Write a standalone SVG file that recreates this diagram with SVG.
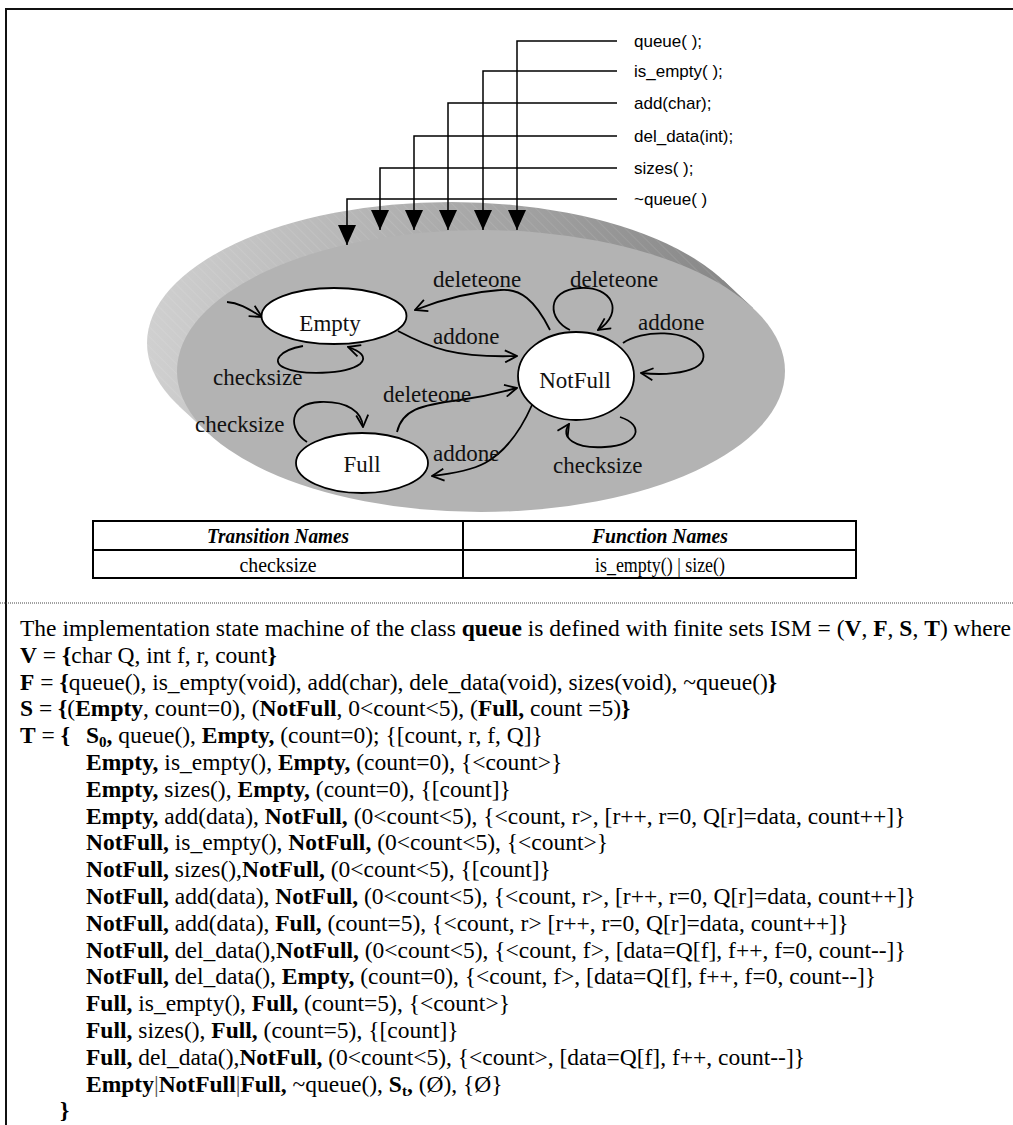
<svg xmlns="http://www.w3.org/2000/svg" width="1013" height="1125" viewBox="0 0 1013 1125">
<defs>
<style>
.t{font-family:"Liberation Serif","Times New Roman",serif;font-size:23.5px;fill:#000}
.b{font-weight:bold}
.lbl{font-family:"Liberation Serif","Times New Roman",serif;font-size:23px;fill:#111}
.sn{font-family:"Liberation Serif","Times New Roman",serif;font-size:23px;fill:#111;text-anchor:middle}
.fn{font-family:"Liberation Sans",Arial,sans-serif;font-size:17px;fill:#000}
.st{fill:#fff;stroke:#000;stroke-width:1.8}
.e{fill:none;stroke:#000;stroke-width:1.8;marker-end:url(#chev)}
.c{fill:none;stroke:#000;stroke-width:1.5;marker-end:url(#tri)}
.th{font-family:"Liberation Serif","Times New Roman",serif;font-size:21px;font-weight:bold;font-style:italic;text-anchor:middle}
.td{font-family:"Liberation Serif","Times New Roman",serif;font-size:21px;text-anchor:middle}
</style>
<marker id="chev" viewBox="0 0 14 14" refX="13" refY="7" markerWidth="14" markerHeight="14" markerUnits="userSpaceOnUse" orient="auto"><path d="M1,1 L13,7 L1,13" fill="none" stroke="#000" stroke-width="1.8"/></marker>
<marker id="tri" viewBox="0 0 20 18" refX="20" refY="9" markerWidth="20" markerHeight="18" markerUnits="userSpaceOnUse" orient="auto"><path d="M0,0 L20,9 L0,18 z" fill="#000"/></marker>
<linearGradient id="band" gradientUnits="userSpaceOnUse" x1="147" y1="0" x2="750" y2="0"><stop offset="0" stop-color="#d0d0d0"/><stop offset="1" stop-color="#858585"/></linearGradient>
<pattern id="hatch" width="7" height="7" patternUnits="userSpaceOnUse" patternTransform="rotate(-45)"><line x1="0" y1="0" x2="0" y2="7" stroke="#fff" stroke-opacity="0.18" stroke-width="1"/></pattern>
</defs>
<rect width="1013" height="1125" fill="#fff"/>
<g id="frame">
<line x1="6" y1="9" x2="1013" y2="9" stroke="#111" stroke-width="2"/>
<line x1="6" y1="8" x2="6" y2="1125" stroke="#111" stroke-width="2"/>
<line x1="0" y1="603" x2="1013" y2="603" stroke="#444" stroke-width="1" stroke-dasharray="1 1"/>
</g>
<g id="disk">
<ellipse cx="451" cy="343" rx="304" ry="141" fill="url(#band)"/>
<polygon points="208.7,433.7 178.7,405.7 723.3,280.3 753.3,308.3" fill="url(#band)"/>
<ellipse cx="451" cy="343" rx="304" ry="141" fill="url(#hatch)"/>
<polygon points="208.7,433.7 178.7,405.7 723.3,280.3 753.3,308.3" fill="url(#hatch)"/>
<ellipse cx="481" cy="371" rx="304" ry="141" fill="#b3b3b3"/>
</g>
<g id="connectors">
<path class="c" d="M617,41 H517 V230"/>
<path class="c" d="M617,71 H483 V230"/>
<path class="c" d="M617,103 H448 V230"/>
<path class="c" d="M617,136 H414 V230"/>
<path class="c" d="M617,168 H380 V230"/>
<path class="c" d="M617,199 H347 V245"/>
<path class="e" d="M227,302 C240,303 250,310 262,317"/>
<path class="e" d="M303,346 C280,350 270,362 285,368 C300,375 345,375 360,364 C368,357 360,351 348,347"/>
<path class="e" d="M398,331 C430,348 455,358 517,356"/>
<path class="e" d="M550,330 C535,300 520,288 500,290 C470,292 440,300 415,310"/>
<path class="e" d="M570,330 C548,320 545,290 580,288 C612,286 625,312 598,330"/>
<path class="e" d="M623,343 C640,330 690,328 702,350 C712,372 670,376 641,373"/>
<path class="e" d="M620,417 C645,425 640,445 605,447 C575,449 560,438 569,424"/>
<path class="e" d="M307,442 C288,430 288,403 320,402 C348,401 362,412 363,427"/>
<path class="e" d="M397,432 C402,410 420,405 460,400 C490,396 500,392 517,388"/>
<path class="e" d="M532,405 C520,432 505,452 485,463 C470,471 450,474 432,476"/>
</g>
<g id="fnlabels">
<text class="fn" x="634" y="47">queue( );</text>
<text class="fn" x="634" y="77">is_empty( );</text>
<text class="fn" x="634" y="109">add(char);</text>
<text class="fn" x="634" y="142">del_data(int);</text>
<text class="fn" x="634" y="174">sizes( );</text>
<text class="fn" x="634" y="205">~queue( )</text>
</g>
<g id="node-empty">
<ellipse class="st" cx="334" cy="316" rx="72.5" ry="28"/>
<text class="sn" x="330" y="331">Empty</text>
</g>
<g id="node-notfull">
<ellipse class="st" cx="576" cy="376" rx="58" ry="44"/>
<text class="sn" x="575" y="388">NotFull</text>
</g>
<g id="node-full">
<ellipse class="st" cx="362" cy="463" rx="66" ry="30"/>
<text class="sn" x="362" y="472">Full</text>
</g>
<g id="edge-labels">
<text class="lbl" x="433" y="287">deleteone</text>
<text class="lbl" x="433" y="344">addone</text>
<text class="lbl" x="213" y="385">checksize</text>
<text class="lbl" x="570" y="287">deleteone</text>
<text class="lbl" x="638" y="330">addone</text>
<text class="lbl" x="553" y="473">checksize</text>
<text class="lbl" x="195" y="432">checksize</text>
<text class="lbl" x="383" y="402">deleteone</text>
<text class="lbl" x="433" y="461">addone</text>
</g>
<g id="table">
<rect x="93" y="521" width="763" height="57" fill="#fff" stroke="#000" stroke-width="2"/>
<line x1="93" y1="550" x2="856" y2="550" stroke="#000" stroke-width="2"/>
<line x1="463" y1="521" x2="463" y2="578" stroke="#000" stroke-width="2"/>
<text class="th" x="278" y="543" textLength="142" lengthAdjust="spacingAndGlyphs">Transition Names</text>
<text class="th" x="660" y="543" textLength="136" lengthAdjust="spacingAndGlyphs">Function Names</text>
<text class="td" x="278" y="572" textLength="77" lengthAdjust="spacingAndGlyphs">checksize</text>
<text class="td" x="660" y="572" textLength="130" lengthAdjust="spacingAndGlyphs">is_empty() | size()</text>
</g>
<g id="definition">
<text class="t" x="20" y="636">The implementation state machine of the class <tspan class="b">queue</tspan> is defined with finite sets ISM = (<tspan class="b">V</tspan>, <tspan class="b">F</tspan>, <tspan class="b">S</tspan>, <tspan class="b">T</tspan>) where</text>
<text class="t" x="20" y="662.8"><tspan class="b">V</tspan> = <tspan class="b">{</tspan>char Q, int f, r, count<tspan class="b">}</tspan></text>
<text class="t" x="20" y="689.6"><tspan class="b">F</tspan> = <tspan class="b">{</tspan>queue(), is_empty(void), add(char), dele_data(void), sizes(void), ~queue()<tspan class="b">}</tspan></text>
<text class="t" x="20" y="716.4"><tspan class="b">S</tspan> = <tspan class="b">{</tspan>(<tspan class="b">Empty</tspan>, count=0), (<tspan class="b">NotFull</tspan>, 0&lt;count&lt;5), (<tspan class="b">Full,</tspan> count =5)<tspan class="b">}</tspan></text>
<text class="t" x="20" y="743.2"><tspan class="b">T</tspan> = <tspan class="b">{</tspan></text>
<text class="t" x="86" y="743.2"><tspan class="b">S</tspan><tspan class="b" font-size="15" dy="4">0</tspan><tspan class="b" dy="-4">,</tspan> queue(), <tspan class="b">Empty,</tspan> (count=0); {[count, r, f, Q]}</text>
<text class="t" x="86" y="770"><tspan class="b">Empty,</tspan> is_empty(), <tspan class="b">Empty,</tspan> (count=0), {&lt;count&gt;}</text>
<text class="t" x="86" y="796.8"><tspan class="b">Empty,</tspan> sizes(), <tspan class="b">Empty,</tspan> (count=0), {[count]}</text>
<text class="t" x="86" y="823.6"><tspan class="b">Empty,</tspan> add(data), <tspan class="b">NotFull,</tspan> (0&lt;count&lt;5), {&lt;count, r&gt;, [r++, r=0, Q[r]=data, count++]}</text>
<text class="t" x="86" y="850.4"><tspan class="b">NotFull,</tspan> is_empty(), <tspan class="b">NotFull,</tspan> (0&lt;count&lt;5), {&lt;count&gt;}</text>
<text class="t" x="86" y="877.2"><tspan class="b">NotFull,</tspan> sizes(),<tspan class="b">NotFull,</tspan> (0&lt;count&lt;5), {[count]}</text>
<text class="t" x="86" y="904"><tspan class="b">NotFull,</tspan> add(data), <tspan class="b">NotFull,</tspan> (0&lt;count&lt;5), {&lt;count, r&gt;, [r++, r=0, Q[r]=data, count++]}</text>
<text class="t" x="86" y="930.8"><tspan class="b">NotFull,</tspan> add(data), <tspan class="b">Full,</tspan> (count=5), {&lt;count, r&gt; [r++, r=0, Q[r]=data, count++]}</text>
<text class="t" x="86" y="957.6"><tspan class="b">NotFull,</tspan> del_data(),<tspan class="b">NotFull,</tspan> (0&lt;count&lt;5), {&lt;count, f&gt;, [data=Q[f], f++, f=0, count--]}</text>
<text class="t" x="86" y="984.4"><tspan class="b">NotFull,</tspan> del_data(), <tspan class="b">Empty,</tspan> (count=0), {&lt;count, f&gt;, [data=Q[f], f++, f=0, count--]}</text>
<text class="t" x="86" y="1011.2"><tspan class="b">Full,</tspan> is_empty(), <tspan class="b">Full,</tspan> (count=5), {&lt;count&gt;}</text>
<text class="t" x="86" y="1038"><tspan class="b">Full,</tspan> sizes(), <tspan class="b">Full,</tspan> (count=5), {[count]}</text>
<text class="t" x="86" y="1064.8"><tspan class="b">Full,</tspan> del_data(),<tspan class="b">NotFull,</tspan> (0&lt;count&lt;5), {&lt;count&gt;, [data=Q[f], f++, count--]}</text>
<text class="t" x="86" y="1091.6"><tspan class="b">Empty</tspan><tspan fill="#555">|</tspan><tspan class="b">NotFull</tspan><tspan fill="#555">|</tspan><tspan class="b">Full,</tspan> ~queue(), <tspan class="b">S</tspan><tspan class="b" font-size="15" dy="4">t</tspan><tspan class="b" dy="-4">,</tspan> (Ø), {Ø}</text>
<text class="t" x="60" y="1118.4"><tspan class="b">}</tspan></text>
</g>
</svg>
